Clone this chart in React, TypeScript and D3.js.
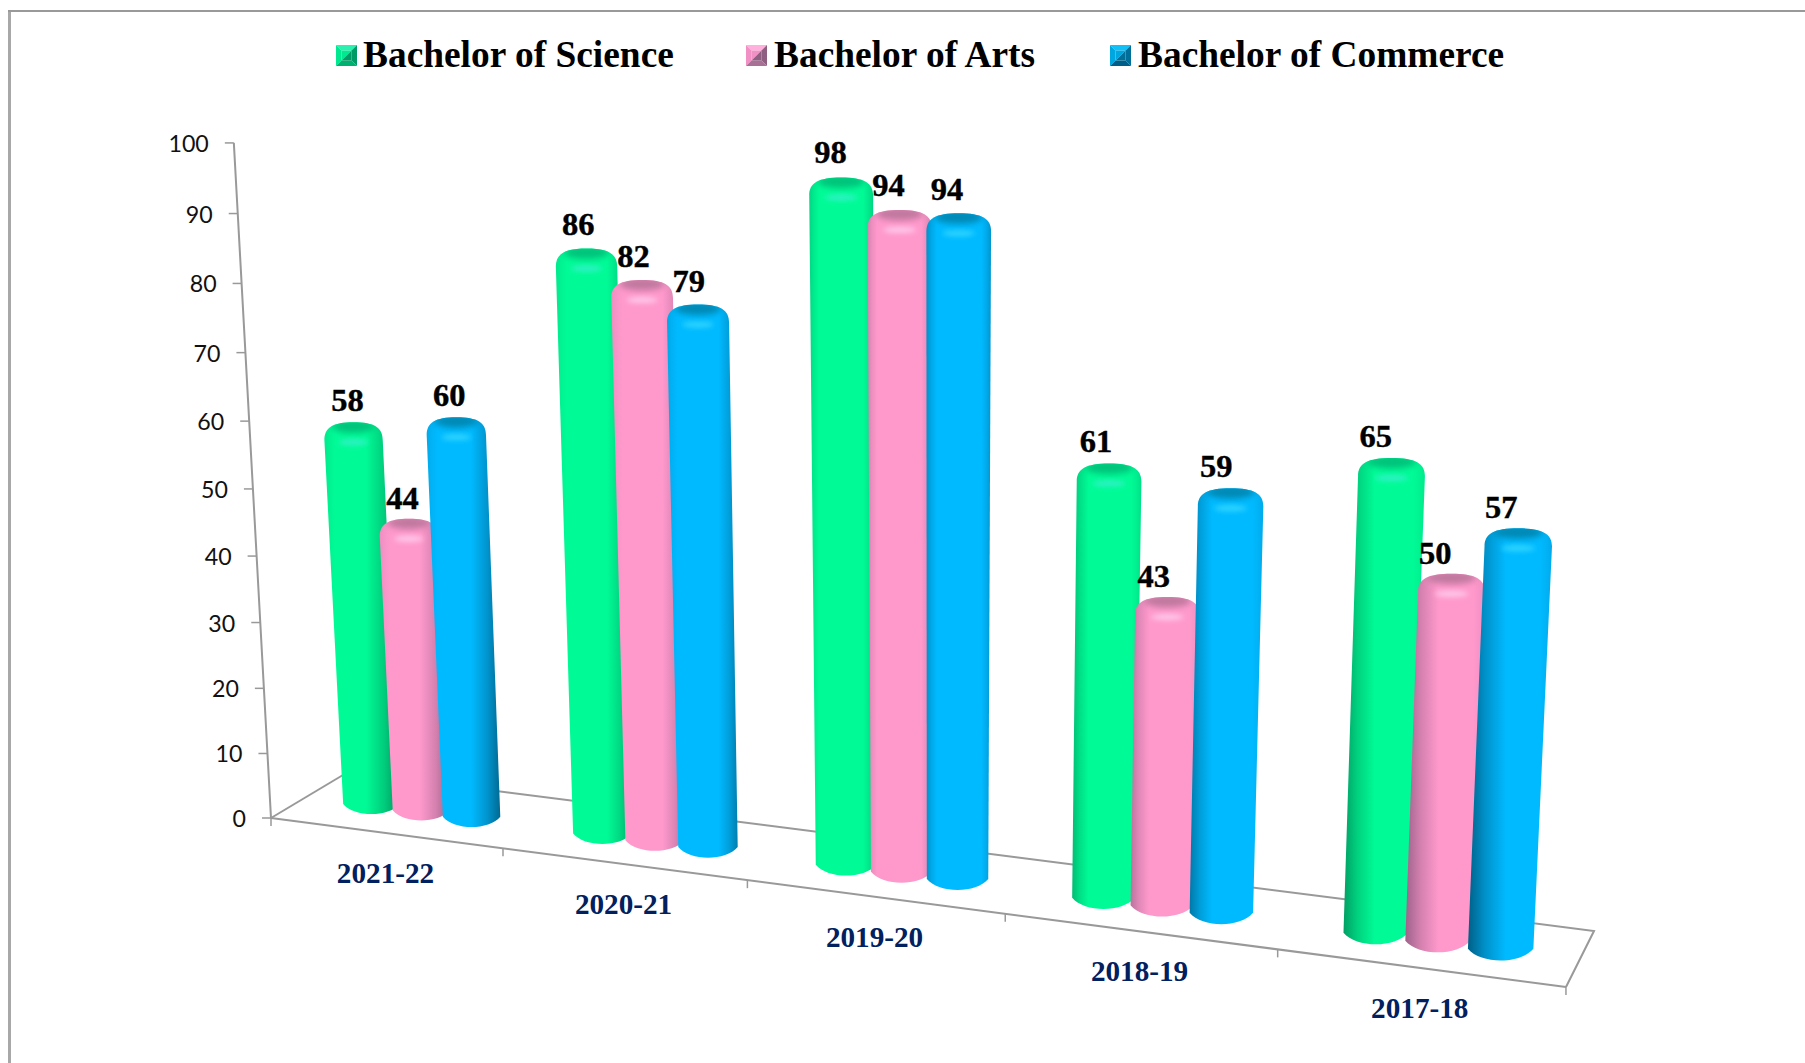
import React from "react";
import * as d3 from "d3";

const categories = ["2021-22", "2020-21", "2019-20", "2018-19", "2017-18"];
const seriesNames = ["Bachelor of Science", "Bachelor of Arts", "Bachelor of Commerce"];
const scienceValues = [58, 86, 98, 61, 65];
const artsValues = [44, 82, 94, 43, 50];
const commerceValues = [60, 79, 94, 59, 57];
const valueTicks = [0, 10, 20, 30, 40, 50, 60, 70, 80, 90, 100];

const seriesValues = [scienceValues, artsValues, commerceValues];
const palette = [
  { base: "#00fb96", dark: "#008a58", cap: "#00c27a", glow: "#2ef2c4", top: "#2cf0b0", left: "#00e890", right: "#009a66", bottom: "#00b070" },
  { base: "#ff99cc", dark: "#8e5a80", cap: "#c0789f", glow: "#ffc6e8", top: "#ffb0dc", left: "#f090c4", right: "#8e5f80", bottom: "#a87094" },
  { base: "#00baff", dark: "#00587c", cap: "#0088b4", glow: "#2ed4ff", top: "#10c0f6", left: "#00a6e0", right: "#00709a", bottom: "#005f88" },
];

// Projection parameters of the pseudo-3D plot box
const ORIGIN = { x: 271, y: 818 };
const FRONT_END = { x: 1566, y: 987 };
const BACK_START = { x: 348, y: 772 };
const BACK_END = { x: 1594, y: 931 };
const VANISH_X = 935;
const RISE = 0.00053;
const FLOOR_Q = 0.0254;
const FLOOR_A = 226.1;
const BAR_DEPTH = 0.48;
const slope = (FRONT_END.y - ORIGIN.y) / (FRONT_END.x - ORIGIN.x);

const bandT = d3.scaleBand<string>().domain(categories).range([0, categories.length]);
const offsetT = d3.scalePoint<string>().domain(seriesNames).range([0.28, 0.72]);
const depthX = d3.scaleLinear().domain([0, 5]).range([79, 33]);
const depthY = d3.scaleLinear().domain([0, 5]).range([-46, -58]);
const barWidth = d3.scaleLinear().domain([0.5, 4.5]).range([57, 65]);
const unitHeight = d3.scaleLinear().domain([0, 5]).range([6.16, 7.0]);
const labelShift = d3.scaleLinear().domain([350, 1520]).range([-6, -17]);

const frontDx = (t: number) => (FLOOR_A * t) / (1 - FLOOR_Q * t);
const frontPoint = (t: number) => ({
  x: ORIGIN.x + frontDx(t),
  y: ORIGIN.y + frontDx(t) * slope,
});
const growth = (v: number) => 1 / (1 - RISE * v);
const wallX = (v: number) => VANISH_X + (ORIGIN.x - VANISH_X) * growth(v);
const wallY = (v: number) => ORIGIN.y - (6.42 * v) / (1 - 0.00049 * v);

const line = d3.line<{ x: number; y: number }>().x((d) => d.x).y((d) => d.y);
const serif = "'Liberation Serif', 'Times New Roman', serif";

function barGeometry(cat: string, series: string, v: number) {
  const t = (bandT(cat) as number) + (offsetT(series) as number);
  const f = frontPoint(t);
  const bx = f.x + depthX(t) * BAR_DEPTH;
  const by = f.y + depthY(t) * BAR_DEPTH;
  const w = barWidth(t);
  const hw = w / 2;
  const ry = w * 0.18;
  const g = growth(v);
  const tx = VANISH_X + (bx - VANISH_X) * g;
  const tcy = by - unitHeight(t) * v * g;
  const apex = tcy - ry;
  const htw = hw * g;
  const S = 18;
  const p = d3.path();
  p.moveTo(tx - htw, apex + S);
  p.lineTo(bx - hw, by);
  p.bezierCurveTo(bx - hw * 0.6, by + ry * 1.33, bx + hw * 0.6, by + ry * 1.33, bx + hw, by);
  p.lineTo(tx + htw, apex + S);
  p.bezierCurveTo(tx + htw, apex + S * 0.3, tx + htw * 0.72, apex, tx, apex);
  p.bezierCurveTo(tx - htw * 0.72, apex, tx - htw, apex + S * 0.3, tx - htw, apex + S);
  p.closePath();
  return { bx, by, tx, apex, htw, path: p.toString() };
}

function stops(bx: number, s: number) {
  const c = palette[s];
  const n = Math.max(-1, Math.min(1, (bx - VANISH_X) / 560));
  const mix = d3.interpolateRgb(c.base, c.dark);
  const leftDark = Math.max(0.16, 0.4 + 0.52 * n);
  const rightDark = Math.max(0.16, 0.4 - 0.52 * n);
  const a = 0.15 + 0.3 * Math.max(n, 0);
  const b = 0.85 + 0.3 * Math.min(n, 0);
  const midL = d3.interpolateNumber(0, a)(0.45);
  const midR = d3.interpolateNumber(1, b)(0.45);
  return [
    { o: 0, c: mix(leftDark) },
    { o: midL, c: mix(leftDark * 0.45) },
    { o: a, c: c.base },
    { o: b, c: c.base },
    { o: midR, c: mix(rightDark * 0.45) },
    { o: 1, c: mix(rightDark) },
  ];
}

function Marker({ x, y, s }: { x: number; y: number; s: number }) {
  const c = palette[s];
  const z = 21;
  const i = 5.5;
  const tri = (pts: number[][], fill: string, k: number) => (
    <polygon key={k} points={pts.map((p) => p.join(",")).join(" ")} fill={fill} />
  );
  const X = x + z, Y = y + z;
  return (
    <g>
      {tri([[x, y], [X, y], [X - i, y + i], [x + i, y + i]], c.top, 0)}
      {tri([[x, y], [x + i, y + i], [x + i, Y - i], [x, Y]], c.left, 1)}
      {tri([[X, y], [X, Y], [X - i, Y - i], [X - i, y + i]], c.right, 2)}
      {tri([[x, Y], [x + i, Y - i], [X - i, Y - i], [X, Y]], c.bottom, 3)}
      <polygon points={`${x + i},${y + i} ${X - i},${y + i} ${x + i},${Y - i}`} fill={c.left} />
      <polygon points={`${X - i},${y + i} ${X - i},${Y - i} ${x + i},${Y - i}`} fill={c.right} />
    </g>
  );
}

const legendMarkerX = [336, 746, 1110];
const legendTextX = [363, 774, 1138];

export default function App() {
  const axisColor = "#999999";
  return (
    <svg
      width={1805}
      height={1063}
      viewBox="0 0 1805 1063"
      style={{ position: "absolute", left: 0, top: 0, display: "block", background: "#fff" }}
    >
      <defs>
        <filter id="soft" x="-50%" y="-150%" width="200%" height="400%">
          <feGaussianBlur stdDeviation="3.4" />
        </filter>
        <filter id="softer" x="-50%" y="-150%" width="200%" height="400%">
          <feGaussianBlur stdDeviation="2.4" />
        </filter>
        {categories.map((cat, ci) =>
          seriesNames.map((name, si) => {
            const g = barGeometry(cat, name, seriesValues[si][ci]);
            return (
              <React.Fragment key={`${ci}-${si}`}>
                <linearGradient id={`body-${ci}-${si}`} x1="0" x2="1" y1="0" y2="0">
                  {stops(g.bx, si).map((st, i) => (
                    <stop key={i} offset={st.o} stopColor={st.c} />
                  ))}
                </linearGradient>
                <clipPath id={`clip-${ci}-${si}`}>
                  <path d={g.path} />
                </clipPath>
              </React.Fragment>
            );
          })
        )}
      </defs>

      <rect x={8} y={10} width={3} height={1053} fill="#a8a8a8" />
      <rect x={8} y={10} width={1797} height={2} fill="#999999" />

      {/* floor */}
      <g fill="none" stroke={axisColor} strokeWidth={2}>
        <path d={line([ORIGIN, FRONT_END]) as string} />
        <path d={line([BACK_START, BACK_END, FRONT_END]) as string} />
        <path d={line([ORIGIN, BACK_START]) as string} />
        <path d={line(valueTicks.map((v) => ({ x: wallX(v), y: wallY(v) }))) as string} />
      </g>
      <g stroke={axisColor} strokeWidth={1.5}>
        {d3.range(0, categories.length + 1).map((t) => {
          const p = frontPoint(t);
          return <line key={t} x1={p.x} x2={p.x} y1={p.y} y2={p.y + 8} />;
        })}
        {valueTicks.map((v) => (
          <line key={v} x1={wallX(v) - 9} x2={wallX(v)} y1={wallY(v)} y2={wallY(v)} />
        ))}
      </g>
      <g fontFamily="Lato, sans-serif" fontSize={23.2} fill="#111" textAnchor="end">
        {valueTicks.map((v) => (
          <text key={v} x={wallX(v) - 25} y={wallY(v) + 9}>
            {v}
          </text>
        ))}
      </g>

      {/* bars */}
      {categories.map((cat, ci) =>
        seriesNames.map((name, si) => {
          const g = barGeometry(cat, name, seriesValues[si][ci]);
          const c = palette[si];
          return (
            <g key={`${ci}-${si}`}>
              <path d={g.path} fill={`url(#body-${ci}-${si})`} />
              <g clipPath={`url(#clip-${ci}-${si})`}>
                <ellipse cx={g.tx} cy={g.apex + 4} rx={g.htw * 0.74} ry={6.5} fill={c.cap} filter="url(#soft)" />
                <ellipse cx={g.tx} cy={g.apex + 20} rx={g.htw * 0.5} ry={3.2} fill={c.glow} filter="url(#softer)" />
              </g>
            </g>
          );
        })
      )}

      {/* value labels */}
      <g
        fontFamily={serif}
        fontWeight="bold"
        fontSize={32.5}
        fill="#000"
        stroke="#000"
        strokeWidth={0.4}
        textAnchor="middle"
      >
        {categories.map((cat, ci) =>
          seriesNames.map((name, si) => {
            const v = seriesValues[si][ci];
            const g = barGeometry(cat, name, v);
            return (
              <text key={`${ci}-${si}`} x={g.tx + labelShift(g.tx)} y={g.apex - 11 - (v - 60) * 0.08}>
                {v}
              </text>
            );
          })
        )}
      </g>

      {/* category labels */}
      <g fontFamily={serif} fontWeight="bold" fontSize={29.2} fill="#002060" textAnchor="middle">
        {categories.map((cat) => {
          const p = frontPoint((bandT(cat) as number) + 0.5);
          return (
            <text key={cat} x={p.x} y={p.y + 50}>
              {cat}
            </text>
          );
        })}
      </g>

      {/* legend */}
      {seriesNames.map((name, si) => (
        <g key={name}>
          <Marker x={legendMarkerX[si]} y={45} s={si} />
          <text x={legendTextX[si]} y={67} fontFamily={serif} fontWeight="bold" fontSize={37.4} fill="#000">
            {name}
          </text>
        </g>
      ))}
    </svg>
  );
}
